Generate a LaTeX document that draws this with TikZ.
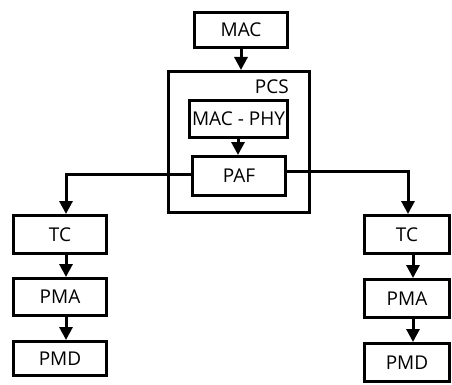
\documentclass[tikz,border=0pt]{standalone}
\usepackage{fontspec}
\setmainfont{Open Sans}
\usetikzlibrary{arrows.meta}
\begin{document}
\begin{tikzpicture}[x=1pt,y=-1pt,
  box/.style={draw=black, line width=3pt, fill=white, inner sep=0pt, font=\fontsize{19}{22}\selectfont},
  conn/.style={line width=3pt, -{Triangle[width=13pt,length=13pt]}}]
\useasboundingbox (0,0) rectangle (452,385);
\node[box, minimum width=141pt, minimum height=141pt] (pcs) at (239,142) {};
\node[anchor=east, inner sep=0pt, font=\fontsize{19}{22}\selectfont] (pcsl) at (289,87) {PCS};
\node[box, minimum width=93pt, minimum height=35pt] (mac) at (241,30) {MAC};
\node[box, minimum width=98pt, minimum height=37pt] (macphy) at (238.5,119) {MAC - PHY};
\node[box, minimum width=93pt, minimum height=39pt] (paf) at (239,176) {PAF};
\node[box, minimum width=93pt, minimum height=38pt] (ltc) at (60,234.5) {TC};
\node[box, minimum width=93pt, minimum height=37pt] (lpma) at (60,297) {PMA};
\node[box, minimum width=93pt, minimum height=34pt] (lpmd) at (60,358.5) {PMD};
\node[box, minimum width=85pt, minimum height=38pt] (rtc) at (407,234.5) {TC};
\node[box, minimum width=85pt, minimum height=38pt] (rpma) at (407,298.5) {PMA};
\node[box, minimum width=85pt, minimum height=38pt] (rpmd) at (407,362.5) {PMD};
\draw[conn] (mac.south -| 241,0) -- (pcs.north -| 241,0);
\draw[conn] (macphy.south -| 238,0) -- (paf.north -| 238,0);
\draw[conn] (paf.west |- 0,174) -| (ltc.north -| 66,0);
\draw[conn] (paf.east |- 0,171) -| (rtc.north -| 408,0);
\draw[conn] (ltc.south -| 66,0) -- (lpma.north -| 66,0);
\draw[conn] (lpma.south -| 66,0) -- (lpmd.north -| 66,0);
\draw[conn] (rtc.south -| 413,0) -- (rpma.north -| 413,0);
\draw[conn] (rpma.south -| 413,0) -- (rpmd.north -| 413,0);
\end{tikzpicture}
\end{document}
